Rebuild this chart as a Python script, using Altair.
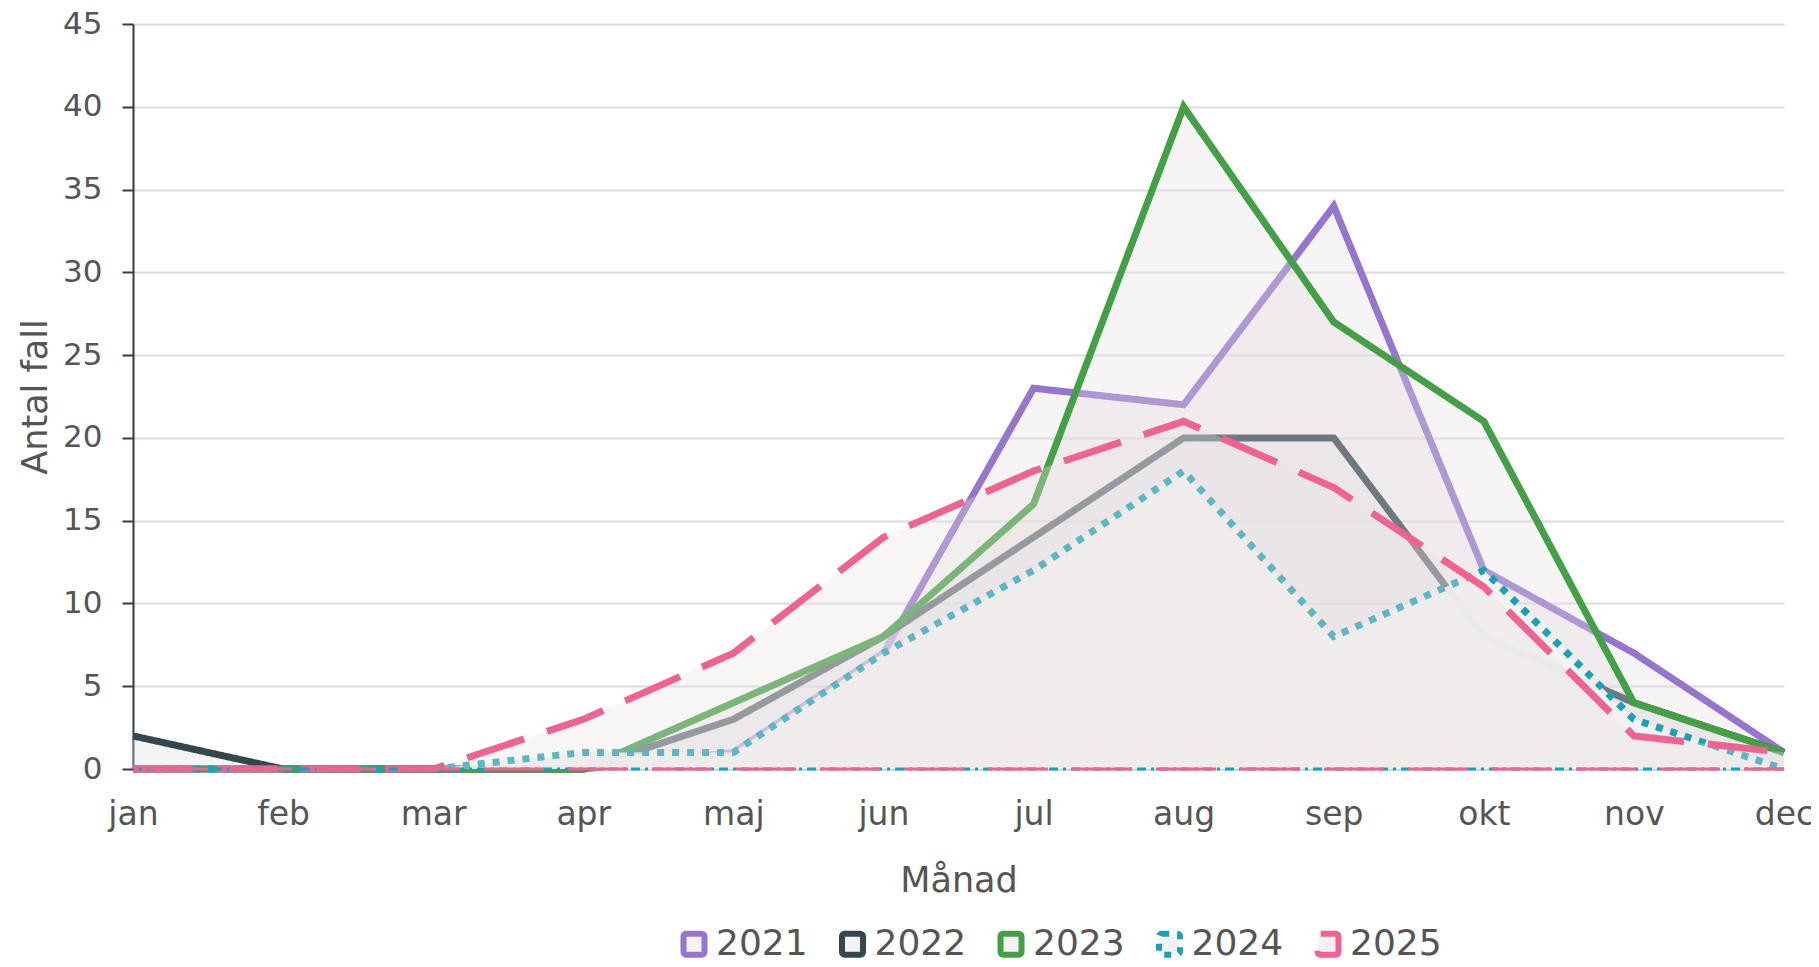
import altair as alt
import pandas as pd

# ---- data ----
months = ["jan", "feb", "mar", "apr", "maj", "jun", "jul", "aug", "sep", "okt", "nov", "dec"]
years = ["2021", "2022", "2023", "2024", "2025"]
v2021 = [0, 0, 0, 0, 1, 7, 23, 22, 34, 12, 7, 1]
v2022 = [2, 0, 0, 0, 3, 8, 14, 20, 20, 8, 4, 1]
v2023 = [0, 0, 0, 0, 4, 8, 16, 40, 27, 21, 4, 1]
v2024 = [0, 0, 0, 1, 1, 7, 12, 18, 8, 12, 3, 0]
v2025 = [0, 0, 0, 3, 7, 14, 18, 21, 17, 11, 2, 1]
y_ticks = [0, 5, 10, 15, 20, 25, 30, 35, 40, 45]
baseline = [0]

series = {"2021": v2021, "2022": v2022, "2023": v2023, "2024": v2024, "2025": v2025}
rows = []
for yr, vals in series.items():
    for m, v in zip(months, vals):
        rows.append({"month": m, "year": yr, "value": v})
df = pd.DataFrame(rows)

# ---- styles ----
line_colors = ["#9575CD", "#34474F", "#43A047", "#17A2B8", "#F06292"]
dashes = [[1, 0], [1, 0], [1, 0], [7, 8], [60, 24]]
widths = {"2021": 7, "2022": 7, "2023": 7, "2024": 7, "2025": 7}
fills = {"2021": "#e3dfe1", "2022": "#e2dedf", "2023": "#e3dfe0", "2024": "#f3f2f1", "2025": "#ebe2e2"}
fill_op = {"2021": 0.33, "2022": 0.33, "2023": 0.33, "2024": 0.96, "2025": 0.33}
text_color = "#555555"
rounded_square = ("M-0.7,-1H0.7Q1,-1 1,-0.7V0.7Q1,1 0.7,1H-0.7Q-1,1 -1,0.7"
                  "V-0.7Q-1,-1 -0.7,-1Z")

W, H = 1651, 745


def legend():
    return alt.Legend(title=None, orient="none", direction="horizontal",
                      columns=5, legendX=543, legendY=902,
                      symbolType=rounded_square, symbolSize=441,
                      symbolStrokeWidth=6, symbolFillColor="#f3f1f1",
                      labelFontSize=36, labelColor=text_color,
                      labelOffset=4, columnPadding=21.5, padding=0)


x_enc = alt.X("month:N", sort=months,
              scale=alt.Scale(type="point", padding=0, domain=months),
              axis=alt.Axis(title="Månad", labelAngle=0, ticks=False, tickSize=0,
                            labelPadding=45, labelFontSize=33, labelColor=text_color,
                            labelBaseline="middle",
                            domainColor="#d0d0d0", domainWidth=2, grid=False,
                            titleFontSize=35, titleColor=text_color, titleFontWeight="normal",
                            titleX=W / 2, titleY=111, titleBaseline="middle", titleAlign="center"))
y_enc = alt.Y("value:Q",
              scale=alt.Scale(domain=[0, 45], nice=False),
              axis=alt.Axis(title="Antal fall", values=y_ticks, tickSize=11, tickWidth=2,
                            tickColor="#2f3e46", domainColor="#2f3e46", domainWidth=2,
                            labelPadding=20, labelFontSize=31, labelColor=text_color,
                            gridColor="#dcdcdc", gridWidth=2,
                            titleFontSize=35, titleColor=text_color, titleFontWeight="normal",
                            titleAngle=-90, titleX=-98, titleY=H / 2,
                            titleBaseline="middle", titleAlign="center"))

color_enc = alt.Color("year:N", scale=alt.Scale(domain=years, range=line_colors), legend=legend())
dash_enc = alt.StrokeDash("year:N", scale=alt.Scale(domain=years, range=dashes), legend=legend())

base = alt.Chart(df)
layers = []
for yr in years:
    sub = base.transform_filter(alt.datum.year == yr)
    area = sub.mark_area(fill=fills[yr], fillOpacity=fill_op[yr], interpolate="linear").encode(
        x=x_enc, y=y_enc)
    line = sub.mark_line(strokeWidth=widths[yr], interpolate="linear", strokeCap="butt",
                         strokeJoin="miter").encode(
        x=x_enc, y=y_enc, color=color_enc, strokeDash=dash_enc)
    layers += [area, line]

zero_df = pd.DataFrame({"zero": baseline})
rule_teal = alt.Chart(zero_df).mark_rule(color="#17A2B8", strokeWidth=3,
                                         strokeDash=[9, 5, 3, 5]).encode(y="zero:Q")
rule_pink = alt.Chart(zero_df).mark_rule(color="#F06292", strokeWidth=3,
                                         strokeDash=[60, 24], strokeDashOffset=20).encode(y="zero:Q")
layers += [rule_teal, rule_pink]

chart = alt.layer(*layers).properties(
    width=W, height=H,
    autosize=alt.AutoSizeParams(type="none"),
    padding={"left": 125, "top": 16, "right": 27, "bottom": 190},
).configure(font="DejaVu Sans").configure_view(stroke=None)

chart.save("out.html", embed_options={"renderer": "svg", "actions": False})
